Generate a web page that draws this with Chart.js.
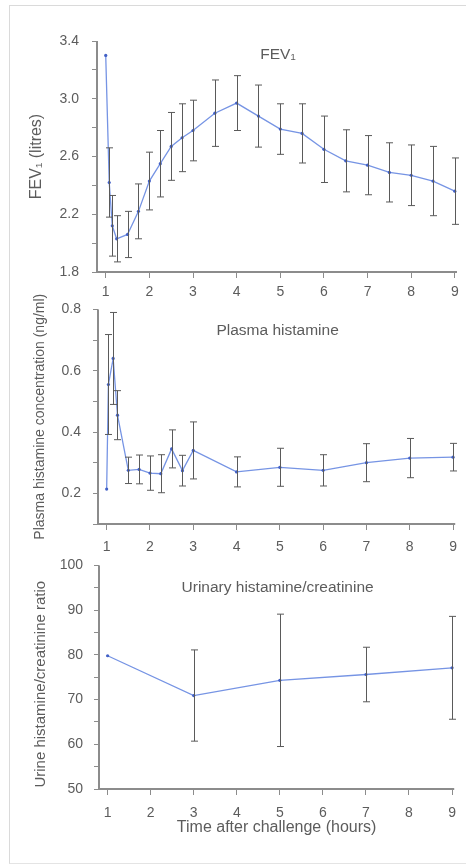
<!DOCTYPE html>
<html>
<head>
<meta charset="utf-8">
<script src="https://cdn.jsdelivr.net/npm/chart.js@4.4.1/dist/chart.umd.min.js"></script>
<style>
html, body { margin: 0; padding: 0; background: #fff; }
body { width: 466px; height: 865px; position: relative; overflow: hidden; }
.frame { position: absolute; left: 9px; top: 5px; width: 470px; height: 857px;
         border-left: 1px solid #dadada; border-top: 1px solid #dadada; border-bottom: 1px solid #e4e4e4; }
.panel { position: absolute; left: 0; width: 466px; }
</style>
</head>
<body>
<div class="frame"></div>
<div class="panel" style="top:0;height:300px"><canvas id="fevChart"></canvas></div>
<div class="panel" style="top:289px;height:266px"><canvas id="plasmaChart"></canvas></div>
<div class="panel" style="top:546px;height:319px"><canvas id="urineChart"></canvas></div>
<script>
// x axis (hours)
const hourTicks = [1, 2, 3, 4, 5, 6, 7, 8, 9];

// FEV1 (litres)
const fevTimes = [1, 1.08, 1.15, 1.25, 1.5, 1.75, 2, 2.25, 2.5, 2.75, 3, 3.5, 4, 4.5, 5, 5.5, 6, 6.5, 7, 7.5, 8, 8.5, 9];
const fevMean  = [3.30, 2.42, 2.12, 2.03, 2.06, 2.22, 2.43, 2.55, 2.67, 2.73, 2.78, 2.90, 2.97, 2.88, 2.79, 2.76, 2.65, 2.57, 2.54, 2.49, 2.47, 2.43, 2.36];
const fevErr   = [0, 0.24, 0.21, 0.16, 0.16, 0.19, 0.20, 0.23, 0.235, 0.235, 0.21, 0.23, 0.19, 0.215, 0.175, 0.205, 0.23, 0.215, 0.205, 0.205, 0.21, 0.24, 0.23];
const fevYTicks  = [1.8, 2.0, 2.2, 2.4, 2.6, 2.8, 3.0, 3.2, 3.4];
const fevYLabels = [1.8, 2.2, 2.6, 3.0, 3.4];

// Plasma histamine (ng/ml)
const plasmaTimes = [1, 1.04, 1.15, 1.25, 1.5, 1.75, 2, 2.25, 2.5, 2.75, 3, 4, 5, 6, 7, 8, 9];
const plasmaMean  = [0.214, 0.555, 0.64, 0.455, 0.275, 0.278, 0.266, 0.264, 0.345, 0.274, 0.34, 0.27, 0.285, 0.275, 0.30, 0.315, 0.318];
const plasmaErr   = [0, 0.163, 0.15, 0.08, 0.043, 0.047, 0.056, 0.062, 0.062, 0.05, 0.093, 0.049, 0.062, 0.051, 0.062, 0.064, 0.045];
const plasmaYTicks  = [0.1, 0.15, 0.2, 0.25, 0.3, 0.35, 0.4, 0.45, 0.5, 0.55, 0.6, 0.65, 0.7, 0.75, 0.8];
const plasmaYLabels = [0.2, 0.4, 0.6, 0.8];

// Urinary histamine/creatinine ratio
const urineTimes = [1, 3, 5, 7, 9];
const urineMean  = [79.8, 70.9, 74.3, 75.6, 77.1];
const urineErr   = [0, 10.2, 14.8, 6.1, 11.5];
const urineYTicks  = [50, 55, 60, 65, 70, 75, 80, 85, 90, 95, 100];
const urineYLabels = [50, 60, 70, 80, 90, 100];

const FONT = "Arial, 'Liberation Sans', sans-serif";
const lineBlue = 'rgb(118, 148, 228)';
const pointBlue = 'rgb(66, 96, 198)';
const barGrey = '#5a5a5a';
const axisGrey = '#8c8c8c';
const textGrey = '#5c5c5c';

// vertical error bars drawn through the chart's own scales
const errorBars = {
    id: 'errorBars',
    afterDatasetsDraw(chart, args, opts) {
        const { ctx, scales: { x, y } } = chart;
        const pts = chart.data.datasets[0].data;
        ctx.save();
        ctx.strokeStyle = barGrey;
        ctx.lineWidth = 1;
        pts.forEach((p, i) => {
            const e = opts.err[i];
            if (!e) return;
            const px = Math.round(x.getPixelForValue(p.x)) + 0.5;
            const top = y.getPixelForValue(p.y + e);
            const bot = y.getPixelForValue(p.y - e);
            ctx.beginPath();
            ctx.moveTo(px, top); ctx.lineTo(px, bot);
            ctx.moveTo(px - 3.5, top); ctx.lineTo(px + 3.5, top);
            ctx.moveTo(px - 3.5, bot); ctx.lineTo(px + 3.5, bot);
            ctx.stroke();
        });
        ctx.restore();
    }
};

// axis lines, panel heading and the rotated y axis title
const panelText = {
    id: 'panelText',
    afterDraw(chart, args, opts) {
        const { ctx, chartArea: a } = chart;
        const left = Math.round(a.left);
        const bottom = Math.round(a.bottom);
        ctx.save();
        ctx.fillStyle = axisGrey;
        ctx.fillRect(left - 1, a.top, 2, bottom - a.top + 1);
        ctx.fillRect(left - 1, bottom - 1, a.right - left + 1, 2);

        ctx.fillStyle = textGrey;
        ctx.textAlign = 'center';
        ctx.textBaseline = 'middle';
        ctx.font = opts.headingSize + 'px ' + FONT;
        ctx.fillText(opts.heading, (a.left + a.right) / 2 + 1, a.top + opts.headingDy);
        ctx.translate(opts.yTitleX, (a.top + a.bottom) / 2 + opts.yTitleDy);
        ctx.rotate(-Math.PI / 2);
        ctx.font = opts.yTitleSize + 'px ' + FONT;
        ctx.fillText(opts.yTitle, 0, 0);
        ctx.restore();
    }
};

function makePanel(id, p) {
    const points = p.times.map((t, i) => ({ x: t, y: p.mean[i] }));
    const hasLabel = v => p.yLabels.some(l => Math.abs(l - v) < 1e-6);
    return new Chart(document.getElementById(id), {
        type: 'line',
        data: {
            datasets: [{
                data: points,
                borderColor: lineBlue,
                borderWidth: 1.3,
                pointRadius: 1.6,
                pointBackgroundColor: pointBlue,
                pointBorderWidth: 0,
                tension: 0
            }]
        },
        plugins: [errorBars, panelText],
        options: {
            responsive: true,
            maintainAspectRatio: false,
            animation: false,
            layout: { padding: { top: p.padTop, right: 9, left: 0, bottom: 0 } },
            plugins: {
                legend: { display: false },
                tooltip: { enabled: false },
                errorBars: { err: p.err },
                panelText: {
                    heading: p.heading,
                    headingSize: 15.5,
                    headingDy: p.headingDy,
                    yTitle: p.yTitle,
                    yTitleX: p.yTitleX,
                    yTitleDy: p.yTitleDy,
                    yTitleSize: p.yTitleSize
                }
            },
            scales: {
                x: {
                    type: 'linear',
                    min: 0.8,
                    max: 9.05,
                    afterFit: s => { s.height = p.xHeight; },
                    afterBuildTicks: s => { s.ticks = hourTicks.map(v => ({ value: v })); },
                    grid: { drawOnChartArea: false, drawTicks: true, tickLength: 6, color: axisGrey },
                    border: { display: false },
                    ticks: {
                        color: textGrey,
                        font: { family: FONT, size: 14 },
                        padding: p.xPad,
                        maxRotation: 0,
                        callback: v => String(v)
                    },
                    title: p.xTitle ? {
                        display: true,
                        text: p.xTitle,
                        color: textGrey,
                        font: { family: FONT, size: 16 },
                        padding: { top: 0, bottom: 28 }
                    } : { display: false }
                },
                y: {
                    type: 'linear',
                    min: p.yMin,
                    max: p.yMax,
                    afterFit: s => { s.width = p.yWidth; },
                    afterBuildTicks: s => { s.ticks = p.yTicks.map(v => ({ value: v })); },
                    grid: { drawOnChartArea: false, drawTicks: true, tickLength: 5, color: axisGrey },
                    border: { display: false },
                    ticks: {
                        color: textGrey,
                        font: { family: FONT, size: 14 },
                        padding: p.yPad,
                        callback: v => hasLabel(v) ? p.fmt(v) : ''
                    }
                }
            }
        }
    });
}

makePanel('fevChart', {
    times: fevTimes, mean: fevMean, err: fevErr,
    yMin: 1.8, yMax: 3.4, yTicks: fevYTicks, yLabels: fevYLabels,
    fmt: v => v.toFixed(1),
    padTop: 41, xHeight: 28, yWidth: 97, yPad: 13, xPad: 6,
    heading: 'FEV\u2081', headingDy: 14,
    yTitle: 'FEV\u2081 (litres)', yTitleX: 37, yTitleSize: 16, yTitleDy: 0
});

makePanel('plasmaChart', {
    times: plasmaTimes, mean: plasmaMean, err: plasmaErr,
    yMin: 0.1, yMax: 0.8, yTicks: plasmaYTicks, yLabels: plasmaYLabels,
    fmt: v => v.toFixed(1),
    padTop: 20, xHeight: 31, yWidth: 98, yPad: 12, xPad: 9,
    heading: 'Plasma histamine', headingDy: 21,
    yTitle: 'Plasma histamine concentration (ng/ml)', yTitleX: 40, yTitleSize: 14, yTitleDy: 0
});

makePanel('urineChart', {
    times: urineTimes, mean: urineMean, err: urineErr,
    yMin: 50, yMax: 100, yTicks: urineYTicks, yLabels: urineYLabels,
    fmt: v => String(v),
    padTop: 19, xHeight: 76, yWidth: 99, yPad: 11, xPad: 10,
    heading: 'Urinary histamine/creatinine', headingDy: 22,
    yTitle: 'Urine histamine/creatinine ratio', yTitleX: 41, yTitleSize: 15, yTitleDy: 7,
    xTitle: 'Time after challenge (hours)'
});
</script>
</body>
</html>
